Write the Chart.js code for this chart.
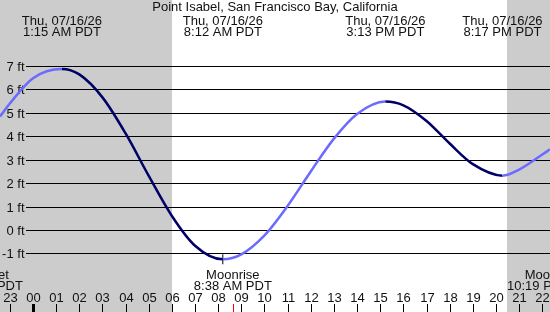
<!DOCTYPE html>
<html>
<head>
<meta charset="utf-8">
<script src="https://cdn.jsdelivr.net/npm/chart.js@4"></script>
<style>
  html, body { margin: 0; padding: 0; background: #fff; }
  canvas { display: block; }
</style>
</head>
<body>
<canvas id="tideChart" width="550" height="312"></canvas>
<script>
// Point Isabel tide curve, hours since local midnight 07/16/26
const hours   = [-1.43, -1, 0, 1.25, 2, 3, 4, 5, 6, 7, 8.2, 9, 10, 11, 12, 13, 14, 15.22, 16, 17, 18, 19, 20.28, 21, 22, 22.33];
const heights = [4.84, 5.4, 6.48, 6.87, 6.64, 5.66, 4.12, 2.31, 0.6, -0.67, -1.25, -1.04, -0.23, 1.03, 2.5, 3.9, 4.95, 5.48, 5.32, 4.65, 3.69, 2.81, 2.32, 2.58, 3.22, 3.44];

// high / low tide events
const tideHours  = [1.25, 8.2, 15.22, 20.28];
const tideTimes  = ['1:15 AM PDT', '8:12 AM PDT', '3:13 PM PDT', '8:17 PM PDT'];
const tideDate   = 'Thu, 07/16/26';

// moon events
const moonHours  = [-2.12, 8.633, 22.317];
const moonNames  = ['Moonset', 'Moonrise', 'Moonset'];
const moonTimes  = ['9:53 PM PDT', '8:38 AM PDT', '10:19 PM PDT'];

// night (sunset -> sunrise)
const nightFrom  = [-3, 20.48];
const nightTo    = [6.0, 24];

const ftTicks    = [-1, 0, 1, 2, 3, 4, 5, 6, 7];
const hourTicks  = [-1, 0, 1, 2, 3, 4, 5, 6, 7, 8, 9, 10, 11, 12, 13, 14, 15, 16, 17, 18, 19, 20, 21, 22];
const hourLabels = ['23', '00', '01', '02', '03', '04', '05', '06', '07', '08', '09', '10', '11',
                    '12', '13', '14', '15', '16', '17', '18', '19', '20', '21', '22'];

const title = 'Point Isabel, San Francisco Bay, California';

const FONT = '13px "Liberation Sans", Arial, sans-serif';
const RISING = '#6b6bff';
const FALLING = '#000066';

const decor = {
  id: 'decor',
  beforeDatasetsDraw(chart) {
    const { ctx, chartArea: a, scales: { x, y } } = chart;
    ctx.save();
    ctx.fillStyle = '#fff';
    ctx.fillRect(0, 0, chart.width, chart.height);
    ctx.fillStyle = '#cccccc';
    nightFrom.forEach((f, i) => {
      const x0 = Math.max(0, x.getPixelForValue(f));
      const x1 = Math.min(chart.width, x.getPixelForValue(nightTo[i]));
      ctx.fillRect(Math.round(x0), 0, Math.round(x1) - Math.round(x0), chart.height);
    });
    // grid lines + labels
    ctx.strokeStyle = '#000';
    ctx.lineWidth = 1;
    ctx.font = FONT;
    ctx.fillStyle = '#111';
    ctx.textAlign = 'right';
    ctx.textBaseline = 'alphabetic';
    ftTicks.forEach(v => {
      const py = Math.round(y.getPixelForValue(v)) + 0.5;
      ctx.beginPath();
      ctx.moveTo(26, py);
      ctx.lineTo(a.right, py);
      ctx.stroke();
      ctx.fillText(v + ' ft', 24.5, py + 4.5);
    });
    ctx.restore();
  },
  afterDatasetsDraw(chart) {
    const { ctx, scales: { x } } = chart;
    ctx.save();
    ctx.font = FONT;
    ctx.fillStyle = '#111';
    ctx.textAlign = 'center';
    ctx.textBaseline = 'alphabetic';
    ctx.fillText(title, 275, 11);
    tideHours.forEach((h, i) => {
      const px = x.getPixelForValue(h);
      ctx.fillText(tideDate, px, 25);
      ctx.fillText(tideTimes[i], px, 36);
    });
    moonHours.forEach((h, i) => {
      const px = x.getPixelForValue(h);
      ctx.fillText(moonNames[i], px, 278.5);
      ctx.fillText(moonTimes[i], px, 289.5);
    });
    // hour ticks
    hourTicks.forEach((h, i) => {
      const px = Math.round(x.getPixelForValue(h));
      ctx.fillStyle = '#111';
      ctx.fillText(hourLabels[i], px + 0.5, 302);
      ctx.fillStyle = '#000';
      if (h === 0) ctx.fillRect(px - 1, 304, 3, 8);
      else ctx.fillRect(px, 304, 1, 8);
    });
    ctx.fillStyle = '#ff0000';
    moonHours.forEach(h => {
      const px = Math.round(x.getPixelForValue(h));
      ctx.fillRect(px, 304, 1, 8);
    });
    ctx.restore();
  }
};

new Chart(document.getElementById('tideChart'), {
  type: 'line',
  data: {
    datasets: [
      {
        data: hours.map((h, i) => ({ x: h, y: heights[i] })),
        borderWidth: 2.5,
        pointRadius: 0,
        cubicInterpolationMode: 'monotone',
        borderColor: RISING,
        segment: {
          borderColor: c => (c.p1.parsed.y >= c.p0.parsed.y ? RISING : FALLING)
        }
      },
      {
        // low-tide marker
        data: [{ x: tideHours[1], y: heights[hours.indexOf(tideHours[1])] }],
        showLine: false,
        pointStyle: 'cross',
        pointRadius: 5,
        pointBorderWidth: 1,
        pointBorderColor: '#000',
        pointBackgroundColor: '#000'
      }
    ]
  },
  options: {
    responsive: false,
    animation: false,
    devicePixelRatio: 1,
    layout: { padding: 0, autoPadding: false },
    plugins: { legend: { display: false }, tooltip: { enabled: false } },
    scales: {
      x: { type: 'linear', min: -1.4255, max: 22.333, display: false },
      y: { min: -3.5, max: 9.816, display: false }
    }
  },
  plugins: [decor]
});
</script>
</body>
</html>
